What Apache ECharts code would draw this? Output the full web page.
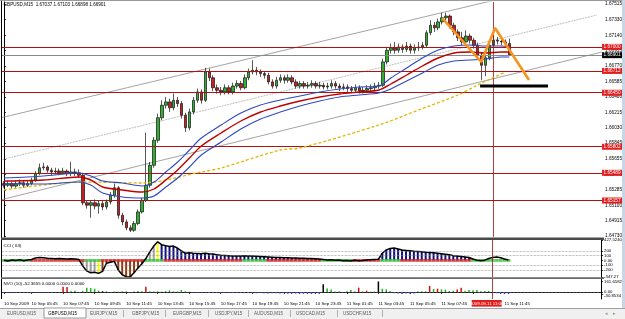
<!DOCTYPE html>
<html><head><meta charset="utf-8">
<script src="https://cdn.jsdelivr.net/npm/echarts@6.0.0/dist/echarts.min.js"></script>
<style>html,body{margin:0;padding:0;background:#fff;overflow:hidden}#c{width:625px;height:319px}</style>
</head><body><div id="c"></div>
<script>
// ---------------- DATA ----------------
const SLOTS = 152;              // bar slots visible (129 bars + empty right margin)
const firstOpen = 1.6536;
const closes = [1.6534,1.6536,1.6533,1.6536,1.6537,1.6534,1.6536,1.6540,1.6548,1.6555,
 1.6556,1.6552,1.6550,1.6551,1.6549,1.6551,1.6548,1.6550,1.6549,1.6546,
 1.6513,1.6510,1.6513,1.6509,1.6512,1.6508,1.6514,1.6522,1.6531,1.6498,
 1.6490,1.6483,1.6480,1.6488,1.6502,1.6516,1.6534,1.6558,1.6588,1.6615,
 1.6630,1.6634,1.6627,1.6636,1.6632,1.6618,1.6603,1.6622,1.6636,1.6646,
 1.6636,1.6670,1.6663,1.6651,1.6648,1.6646,1.6651,1.6646,1.6653,1.6656,
 1.6651,1.6663,1.6670,1.6672,1.6670,1.6668,1.6666,1.6658,1.6653,1.6660,
 1.6663,1.6660,1.6663,1.6658,1.6653,1.6656,1.6653,1.6654,1.6656,1.6653,
 1.6654,1.6652,1.6653,1.6656,1.6653,1.6651,1.6652,1.6650,1.6648,1.6651,
 1.6647,1.6648,1.6650,1.6651,1.6653,1.6654,1.6682,1.6696,1.6699,1.6696,
 1.6700,1.6697,1.6701,1.6696,1.6699,1.6700,1.6702,1.6717,1.6726,1.6723,
 1.6730,1.6735,1.6737,1.6726,1.6718,1.6711,1.6706,1.6713,1.6708,1.6702,
 1.6690,1.6678,1.6687,1.6702,1.6708,1.6707,1.6706,1.6704,1.6690];
const highs = [1.6539,1.6539,1.6538,1.6539,1.6541,1.6539,1.6539,1.6543,1.6551,1.6560,
 1.6561,1.6558,1.6555,1.6555,1.6554,1.6555,1.6553,1.6562,1.6554,1.6553,
 1.6549,1.6516,1.6516,1.6517,1.6516,1.6515,1.6517,1.6526,1.6536,1.6533,
 1.6501,1.6493,1.6486,1.6491,1.6505,1.6519,1.6597,1.6562,1.6592,1.6620,
 1.6636,1.6640,1.6638,1.6644,1.6640,1.6635,1.6621,1.6626,1.6640,1.6650,
 1.6649,1.6675,1.6674,1.6666,1.6655,1.6652,1.6655,1.6654,1.6657,1.6660,
 1.6659,1.6667,1.6674,1.6684,1.6676,1.6673,1.6671,1.6669,1.6661,1.6664,
 1.6667,1.6666,1.6667,1.6666,1.6661,1.6659,1.6659,1.6658,1.6660,1.6659,
 1.6658,1.6657,1.6657,1.6660,1.6659,1.6656,1.6656,1.6655,1.6653,1.6655,
 1.6654,1.6652,1.6654,1.6655,1.6657,1.6658,1.6686,1.6700,1.6704,1.6706,
 1.6704,1.6703,1.6706,1.6704,1.6703,1.6706,1.6706,1.6720,1.6732,1.6730,
 1.6734,1.6741,1.6741,1.6739,1.6729,1.6721,1.6718,1.6720,1.6716,1.6711,
 1.6705,1.6693,1.6690,1.6705,1.6717,1.6712,1.6712,1.6709,1.6710];
const lows = [1.6531,1.6532,1.6530,1.6531,1.6533,1.6531,1.6532,1.6534,1.6538,1.6546,
 1.6552,1.6549,1.6546,1.6547,1.6546,1.6547,1.6545,1.6545,1.6545,1.6543,
 1.6510,1.6506,1.6495,1.6505,1.6500,1.6504,1.6505,1.6511,1.6519,1.6494,
 1.6486,1.6480,1.6478,1.6478,1.6486,1.6500,1.6514,1.6531,1.6555,1.6585,
 1.6612,1.6626,1.6622,1.6624,1.6628,1.6614,1.6598,1.6600,1.6619,1.6633,
 1.6632,1.6634,1.6659,1.6647,1.6644,1.6642,1.6643,1.6643,1.6643,1.6650,
 1.6648,1.6649,1.6660,1.6667,1.6666,1.6664,1.6662,1.6655,1.6650,1.6650,
 1.6657,1.6656,1.6657,1.6655,1.6650,1.6650,1.6650,1.6650,1.6651,1.6650,
 1.6650,1.6649,1.6649,1.6650,1.6650,1.6647,1.6648,1.6646,1.6645,1.6645,
 1.6644,1.6644,1.6645,1.6647,1.6648,1.6650,1.6652,1.6679,1.6692,1.6692,
 1.6693,1.6693,1.6694,1.6692,1.6692,1.6695,1.6697,1.6699,1.6714,1.6718,
 1.6720,1.6727,1.6731,1.6722,1.6714,1.6707,1.6702,1.6703,1.6704,1.6698,
 1.6686,1.6660,1.6665,1.6684,1.6700,1.6703,1.6702,1.6700,1.6690];

const timeTickIdx  = [0,7,15,23,31,39,47,55,63,71,79,87,95,103,111,119,127];
const timeTickText = ['10 Sep 2009','10 Sep 05:45','10 Sep 07:45','10 Sep 09:45','10 Sep 11:45',
 '10 Sep 13:45','10 Sep 15:45','10 Sep 17:45','10 Sep 19:45','10 Sep 21:45','10 Sep 23:45',
 '11 Sep 01:45','11 Sep 03:45','11 Sep 05:45','11 Sep 07:45','11 Sep 09:45','11 Sep 11:45'];
const priceTicks = [1.67515,1.67330,1.67140,1.66955,1.66770,1.66585,1.66400,1.66215,1.66030,
 1.65845,1.65655,1.65470,1.65285,1.65100,1.64915,1.64730];
const redLevels = [1.67000,1.66712,1.66450,1.65802,1.65489,1.65157];
const bidPrice = 1.66901;
const titleText = 'GBPUSD,M15  1.67037 1.67103 1.66898 1.66901';

// moving averages: [bar index, price]
const maBlueA = [[0,1.65427],[10,1.65451],[19,1.65487],[22,1.65451],[25,1.65391],[30,1.65367],[35,1.65331],
 [38,1.65379],[41,1.65499],[44,1.65619],[47,1.65763],[50,1.65907],[55,1.66063],[60,1.66207],[65,1.66303],
 [70,1.66363],[75,1.66411],[80,1.66459],[85,1.66495],[90,1.66519],[95,1.66531],[98,1.66627],[102,1.66747],
 [106,1.66867],[110,1.66963],[114,1.67011],[118,1.67023],[122,1.67011],[126,1.67011],[128,1.66999]];
const maRed = [[0,1.65391],[10,1.65403],[19,1.65439],[22,1.65403],[25,1.65319],[30,1.65283],[35,1.65259],
 [38,1.65295],[41,1.65403],[44,1.65523],[47,1.65667],[50,1.65811],[55,1.65967],[60,1.66111],[65,1.66219],
 [70,1.66291],[75,1.66351],[80,1.66399],[85,1.66435],[90,1.66459],[95,1.66483],[98,1.66555],[102,1.66663],
 [106,1.66771],[110,1.66867],[114,1.66927],[118,1.66939],[122,1.66927],[126,1.66939],[128,1.66939]];
const maBlueB = [[0,1.65355],[10,1.65355],[19,1.65379],[22,1.65343],[25,1.65247],[30,1.65199],[35,1.65187],
 [38,1.65211],[41,1.65319],[44,1.65427],[47,1.65559],[50,1.65703],[55,1.65859],[60,1.66015],[65,1.66135],
 [70,1.66219],[75,1.66291],[80,1.66351],[85,1.66399],[90,1.66423],[95,1.66447],[98,1.66495],[102,1.66591],
 [106,1.66687],[110,1.66783],[114,1.66831],[118,1.66843],[122,1.66855],[126,1.66879],[128,1.66879]];
const maYellow = [[0,1.65283],[20,1.65379],[35,1.65367],[50,1.65499],[55,1.65547],[70,1.65763],[75,1.65787],
 [95,1.66063],[105,1.66243],[115,1.66423],[120,1.66543],[127,1.66699]];

// drawn objects: [bar index, price]
const trendUpper  = [[-1,1.66147],[151.5,1.67869]];
const trendDotted = [[-1,1.65643],[150.2,1.67383]];
const trendLower  = [[-1,1.65163],[151.5,1.66939]];
const zigzag = [[111,1.67347],[120.9,1.66819],[124.4,1.67227],[133,1.66603]];
const targetBar = [[120.6,1.66531],[137.8,1.66531]];
const vLineIdx = 124;
const vLineText = '2009.09.11 11:00';

// CCI(63)
const cci = [5,-10,8,0,12,-5,10,20,50,
 60,55,45,40,35,40,35,30,35,30,20,
 -120,-220,-260,-250,-270,-230,-60,-40,
 -20,
 -200,-300,-340,-345,
 -260,-160,-70,
 40,
 180,300,390,
 330,310,290,300,
 260,200,150,
 160,150,145,140,150,140,135,
 120,110,105,100,95,90,95,100,95,90,85,80,
 75,70,65,60,60,55,55,50,50,45,45,40,40,35,30,
 20,10,15,5,10,-5,0,-10,5,-5,0,10,15,20,25,
 150,220,250,260,240,
 220,210,200,190,185,180,170,165,
 160,150,140,130,120,100,90,80,70,60,
 30,5,-5,5,
 40,60,70,55,
 30,10];
const cciColorCodes = '0000000000' + '0000000000' + 'gggg' + 'y' + 'rrrrrrrrrrr' + 'ggg' + 'y' +
 'bbbbbbbbbb' + 'bbbbbbbbbb' + 'bbbbbbbbbb' + 'bbbbbbbbbb' + 'b' +
 '0000000000' + '00000' + 'bbbbbbbbbb' + 'bbbbbbbbbb' + 'bbb' + '0000000000';
const cciDotCodes = 'GGGGGGG' + 'RRRRRRRRRRRRRR' + 'GGGG' + 'RRRRRRRRRRR' + 'GGGGG' +
 'RRRRRRRRRR' + 'RRRRRRRRRR' + 'GGGGGG' + 'RRRRRRRRRRRRRR' + 'GGGGGGGG' + 'RRRRRRR' + 'GGGGG' +
 'RRRRRRRRRR' + 'RRRRRRRR' + 'GGGGGGGGGG';
const cciTicks = [427.524,200,100,0,-100,-200,-347.27];
const cciTickText = ['427.5240','200','100','0.00','-100','-200','-347.27'];
const cciLevels = [200,100,-100,-200];

// NVO(10)
const nvo = [-8,-10,-6,-12,-8,-5,-10,-7,-9,-11,-6,-8,-10,-7,-9,
 80,78,10,20,-8,15,65,60,50,20,
 12,10,-5,8,5,10,12,-6,8,15,
 10,80,12,8,10,6,12,25,10,8,
 30,12,5,
 -8,-10,-12,-9,-14,-10,-12,-15,-11,-13,
 -16,-12,-14,-18,-15,-17,-20,-16,-19,-22,
 -18,-20,-24,-21,-25,-28,-24,-30,-27,-29,
 -30,-26,-28,
 121,54,40,8,10,-8,12,30,8,67,
 10,20,6,8,161.6582,50,40,10,
 -20,-25,-30,-22,-28,-24,
 8,10,12,94,45,50,40,35,15,20,
 40,67,20,30,25,30,10,15,15,-10,
 -20,-30,-25,-30];
const nvoColorCodes = 'BBBBBBBBBBBBBBB' + 'RRGGBGGGGGKGBGGGGBGGGRGGGGGGGGGGG' +
 'BBBBBBBBBBBBBBBBBBBBBBBBBBBBBBBBB' + 'KGGGGBGGGRGRGGKGGG' + 'BBBBBB' + 'GGGRGRGGGGRRGGGGGGGBBBBB';
const nvoTicks = [161.6582,0,-30.8534];
const nvoTickText = ['161.6582','0.00','-30.8534'];

const cciLabel = 'CCI ( 63)';
const nvoLabel = 'NVO (10) -52.3655 0.0000 0.0000 0.0000';
const tabs = ['EURUSD,M15','GBPUSD,M15','EURJPY,M15','GBPJPY,M15','EURGBP,M15','USDJPY,M15','AUDUSD,M15','USDCAD,M15','USDCHF,M15'];
const activeTab = 1;

// ---------------- CHART ----------------
const FONT = 'Liberation Sans';
const cats = Array.from({length: SLOTS}, (_, i) => String(i));
const ohlc = closes.map((c, i) => [i === 0 ? firstOpen : closes[i - 1], c, lows[i], highs[i]]);
const cciCol = {g:'#a0a0a0', y:'#ffff00', r:'#8b3a10', b:'#101080'};
const nvoCol = {B:'#2030c0', G:'#20b020', R:'#d01010', K:'#000000'};

const chart = echarts.init(document.getElementById('c'), null, {renderer:'canvas', width:625, height:319});

const lineS = (data, color, width, type, z) => ({
  type:'line', xAxisIndex:1, yAxisIndex:0, data, symbol:'none', smooth:0.3, silent:true, z: z || 3,
  lineStyle:{color, width, type: type || 'solid'}, clip:true
});

const tagLabel = (text, bg) => ({show:true, position:'end', distance:0, formatter: () => text, color:'#fff',
  backgroundColor:bg, padding:[0.8,1.5,0.2,1.5], fontSize:4.7, fontFamily:FONT});
const levelMarks = redLevels.map(v => ({
  yAxis:v, lineStyle:{color:'#b01212', width:1.2, type:'solid'}, label:tagLabel(v.toFixed(5), '#e01c1c')
}));
levelMarks.push({yAxis:bidPrice, lineStyle:{color:'#8a8a8a', width:1, type:'solid'}, label:tagLabel(bidPrice.toFixed(5), '#000')});
const vMark = {xAxis:String(vLineIdx), lineStyle:{color:'#a01010', width:0.8, type:'solid'}, label:{show:false}};

const tabStarts = [7, 48, 90, 132, 173, 215, 254, 296, 343];
const tabSeps = [123, 165, 208, 248, 290, 337, 382];
const graphics = [
  {id:'tabbar', type:'rect', shape:{x:0, y:308, width:625, height:11}, style:{fill:'#f0f0f0'}, z:1},
  {id:'tabline', type:'line', shape:{x1:0, y1:308.5, x2:625, y2:308.5}, style:{stroke:'#a0a0a0', lineWidth:1}, z:2},
  {id:'acttab', type:'rect', shape:{x:44, y:308, width:42, height:10}, style:{fill:'#fff', stroke:'#808080', lineWidth:0.8}, z:3},
  {id:'strip', type:'rect', shape:{x:622, y:0, width:3, height:308}, style:{fill:'#c8d6e6'}, z:1},
  {id:'frameL', type:'line', shape:{x1:1.5, y1:0, x2:1.5, y2:299}, style:{stroke:'#000', lineWidth:1}, z:5},
  {id:'frameT', type:'line', shape:{x1:0, y1:0.5, x2:622, y2:0.5}, style:{stroke:'#9a9a9a', lineWidth:1}, z:5},
  {id:'sep1', type:'rect', shape:{x:1, y:237.5, width:603, height:2.5}, style:{fill:'#4a4a4a'}, z:5},
  {id:'sep2', type:'rect', shape:{x:1, y:277.3, width:603, height:1.8}, style:{fill:'#6a6a6a'}, z:5},
  {id:'title', type:'text', x:3.5, y:4.8, style:{text:titleText, fontSize:4.6, fill:'#000', fontFamily:FONT, verticalAlign:'middle'}, z:10},
  {id:'ccil', type:'text', x:3.5, y:245.5, style:{text:cciLabel, fontSize:4.4, fill:'#000', fontFamily:FONT, verticalAlign:'middle'}, z:10},
  {id:'nvol', type:'text', x:3.5, y:283.5, style:{text:nvoLabel, fontSize:4.4, fill:'#000', fontFamily:FONT, verticalAlign:'middle'}, z:10},
  {id:'arrL', type:'text', x:605, y:313.5, style:{text:'\u25C2', fontSize:5, fill:'#999', fontFamily:'DejaVu Sans', verticalAlign:'middle'}, z:10},
  {id:'arrR', type:'text', x:613, y:313.5, style:{text:'\u25B8', fontSize:5, fill:'#999', fontFamily:'DejaVu Sans', verticalAlign:'middle'}, z:10}
];
tabs.forEach((t, i) => graphics.push({id:'tab' + i, type:'text', x:tabStarts[i], y:313.5,
  style:{text:t, fontSize:4.5, fill: i === activeTab ? '#000' : '#5a5a5a', fontFamily:FONT, verticalAlign:'middle'}, z:10}));
tabSeps.forEach((s, i) => graphics.push({id:'sep_t' + i, type:'line', shape:{x1:s + 0.5, y1:310, x2:s + 0.5, y2:317},
  style:{stroke:'#a0a0a0', lineWidth:0.8}, z:10}));

const option = {
  animation:false,
  backgroundColor:'#fff',
  textStyle:{fontFamily:FONT},
  grid:[
    {left:2, top:2, width:601, height:235},
    {left:2, top:240, width:601, height:37},
    {left:2, top:279, width:601, height:20}
  ],
  xAxis:[
    {type:'category', gridIndex:0, data:cats, boundaryGap:true, show:false},
    {type:'value', gridIndex:0, min:-0.5, max:SLOTS - 0.5, show:false},
    {type:'category', gridIndex:1, data:cats, boundaryGap:true, show:false},
    {type:'category', gridIndex:2, data:cats, boundaryGap:true,
      axisLine:{show:true, lineStyle:{color:'#000', width:1}},
      axisTick:{show:true, length:2, alignWithLabel:true, interval:(i) => timeTickIdx.indexOf(i) >= 0, lineStyle:{color:'#000', width:0.8}},
      axisLabel:{show:true, interval:(i) => timeTickIdx.indexOf(i) >= 0,
        formatter:(v, i) => timeTickText[timeTickIdx.indexOf(Number(v))] || '',
        align:'left', fontSize:4.4, color:'#000', margin:2.5, fontFamily:FONT},
      splitLine:{show:false}}
  ],
  yAxis:[
    {type:'value', gridIndex:0, position:'right', min:1.64719, max:1.67539,
      axisLine:{show:true, lineStyle:{color:'#000', width:1}},
      axisTick:{show:true, length:2, customValues:priceTicks, lineStyle:{color:'#000', width:0.8}},
      axisLabel:{show:true, customValues:priceTicks, formatter:(v) => Number(v).toFixed(5), fontSize:4.7, color:'#000', margin:3, fontFamily:FONT},
      splitLine:{show:false}},
    {type:'value', gridIndex:1, position:'right', min:-347.27, max:427.524,
      axisLine:{show:true, lineStyle:{color:'#000', width:1}},
      axisTick:{show:true, length:2, customValues:cciTicks, lineStyle:{color:'#000', width:0.8}},
      axisLabel:{show:true, customValues:cciTicks, formatter:(v) => cciTickText[cciTicks.indexOf(v)] || '', fontSize:4.3, color:'#000', margin:3, fontFamily:FONT},
      splitLine:{show:false}},
    {type:'value', gridIndex:2, position:'right', min:-108, max:200,
      axisLine:{show:true, lineStyle:{color:'#000', width:1}},
      axisTick:{show:true, length:2, customValues:nvoTicks, lineStyle:{color:'#000', width:0.8}},
      axisLabel:{show:true, customValues:nvoTicks,
        formatter:(v) => { const k = nvoTicks.indexOf(v); return k === 2 ? '{lo|' + nvoTickText[k] + '}' : (nvoTickText[k] || ''); },
        rich:{lo:{fontSize:4.3, padding:[4,0,0,0], color:'#000'}},
        fontSize:4.3, color:'#000', margin:3, fontFamily:FONT},
      splitLine:{show:false}}
  ],
  series:[
    {type:'candlestick', xAxisIndex:0, yAxisIndex:0, data:ohlc, barWidth:3, z:4,
      itemStyle:{color:'#30b030', color0:'#c82020', borderColor:'#111', borderColor0:'#111', borderWidth:0.7},
      markLine:{symbol:['none','none'], silent:true, animation:false, data:[vMark]}},
    {type:'line', xAxisIndex:1, yAxisIndex:0, data:[[-0.5, 1.66], [SLOTS - 0.5, 1.66]], symbol:'none', silent:true, z:3,
      lineStyle:{opacity:0},
      markLine:{symbol:['none','none'], silent:true, animation:false, precision:6, data:levelMarks}},
    lineS(trendUpper, '#8c8c8c', 0.8, 'solid', 2),
    lineS(trendDotted, '#8c8c8c', 0.8, 'dotted', 2),
    lineS(trendLower, '#8c8c8c', 0.8, 'solid', 2),
    lineS(maYellow, '#e0b800', 1.3, [3,2], 5),
    lineS(maBlueB, '#2c48c0', 1.1, 'solid', 5),
    lineS(maRed, '#c00000', 1.4, 'solid', 5),
    lineS(maBlueA, '#2c48c0', 1.1, 'solid', 5),
    Object.assign(lineS(zigzag, '#f7931e', 2.6, 'solid', 8), {smooth:false}),
    Object.assign(lineS(targetBar, '#000', 3, 'solid', 8), {smooth:false}),
    {type:'bar', xAxisIndex:2, yAxisIndex:1, barWidth:2, z:2, silent:true,
      data: cci.map((v, i) => { const c = cciColorCodes[i]; return (c && c !== '0') ? {value:v, itemStyle:{color:cciCol[c]}} : '-'; }),
      markLine:{symbol:['none','none'], silent:true, animation:false,
        data:[...cciLevels.map(v => ({yAxis:v, lineStyle:{color:'#888', width:0.7, type:'dotted'}, label:{show:false}})), vMark]}},
    {type:'scatter', xAxisIndex:2, yAxisIndex:1, symbol:'rect', symbolSize:[3.9, 2.8], z:3, silent:true,
      data: cci.map((v, i) => ({value:[String(i), 0], itemStyle:{color: cciDotCodes[i] === 'G' ? '#30c030' : '#d02020'}}))},
    {type:'line', xAxisIndex:2, yAxisIndex:1, data:cci, symbol:'none', z:4, silent:true,
      lineStyle:{color:'#000', width:1.5}},
    {type:'bar', xAxisIndex:3, yAxisIndex:2, barWidth:1.5, z:3, silent:true,
      data: nvo.map((v, i) => ({value:v, itemStyle:{color:nvoCol[nvoColorCodes[i]] || '#2030c0'}})),
      markLine:{symbol:['none','none'], silent:true, animation:false,
        data:[{yAxis:0, lineStyle:{color:'#888', width:0.7, type:'dotted'}, label:{show:false}}, vMark]}}
  ],
  graphic:graphics
};
chart.setOption(option);

const vx = chart.convertToPixel({xAxisIndex:3}, String(vLineIdx));
chart.setOption({graphic:[
  {id:'tbox', type:'rect', shape:{x:vx - 21, y:300, width:30, height:6.6}, style:{fill:'#e01c1c'}, z:20},
  {id:'ttxt', type:'text', x:vx - 6, y:303.4, style:{text:vLineText, fontSize:4.4, fill:'#fff', fontFamily:FONT, align:'center', verticalAlign:'middle'}, z:21}
]});
</script>
</body></html>
